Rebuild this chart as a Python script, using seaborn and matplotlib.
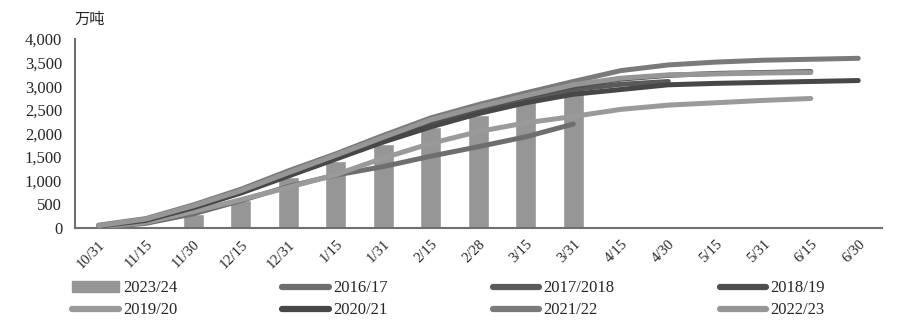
import numpy as np
import pandas as pd
import matplotlib
matplotlib.use("Agg")
import matplotlib.pyplot as plt
import seaborn as sns
from matplotlib.lines import Line2D
from matplotlib.patches import Patch

dates = ["10/31", "11/15", "11/30", "12/15", "12/31", "1/15", "1/31", "2/15",
         "2/28", "3/15", "3/31", "4/15", "4/30", "5/15", "5/31", "6/15", "6/30"]

bar_label = "2023/24"
bar_values = [np.nan, np.nan, 300, 600, 1070, 1420, 1780, 2130, 2400, 2680, 2950,
              np.nan, np.nan, np.nan, np.nan, np.nan, np.nan]

s2016_17 = [10, 100, 300, 580, 880, 1120, 1300, 1520, 1720, 1930, 2200]
s2017_18 = [30, 150, 420, 760, 1130, 1500, 1870, 2230, 2500, 2730, 2930, 3040, 3100]
s2018_19 = [40, 170, 450, 780, 1150, 1520, 1900, 2260, 2540, 2780, 3000, 3150, 3230,
            3270, 3290, 3310]
s2019_20 = [20, 120, 350, 600, 860, 1130, 1480, 1790, 2040, 2225, 2360, 2510, 2600,
            2650, 2700, 2740]
s2020_21 = [40, 160, 430, 740, 1100, 1460, 1820, 2140, 2420, 2650, 2830, 2930, 3030,
            3060, 3080, 3100, 3120]
s2021_22 = [60, 200, 490, 820, 1210, 1570, 1960, 2330, 2610, 2860, 3100, 3330, 3450,
            3510, 3550, 3570, 3590]
s2022_23 = [50, 190, 470, 790, 1170, 1540, 1920, 2290, 2560, 2800, 3030, 3170, 3240,
            3260, 3280, 3290]

series_names = ["2016/17", "2017/2018", "2018/19", "2019/20", "2020/21", "2021/22", "2022/23"]
series_values = [s2016_17, s2017_18, s2018_19, s2019_20, s2020_21, s2021_22, s2022_23]
series_colors = ["#6e6e6e", "#5a5a5a", "#4e4e4e", "#9a9a9a", "#474747", "#7a7a7a", "#969696"]
bar_color = "#969696"

yticks = [0, 500, 1000, 1500, 2000, 2500, 3000, 3500, 4000]
ytick_labels = ["0", "500", "1,000", "1,500", "2,000", "2,500", "3,000", "3,500", "4,000"]

sns.set_style("white")
plt.rcParams['font.family'] = ['Liberation Serif', 'DejaVu Serif']

fig = plt.figure(figsize=(9, 3.3), dpi=100)
ax = fig.add_axes([0.083, 0.309, 0.897, 0.573])

bar_df = pd.DataFrame({"date": dates, "value": bar_values})
sns.barplot(data=bar_df, x="date", y="value", order=dates, color=bar_color,
            width=0.44, saturation=1, ax=ax, zorder=1)

rows = []
for name, vals in zip(series_names, series_values):
    for i, v in enumerate(vals):
        rows.append({"season": name, "pos": i, "value": v})
line_df = pd.DataFrame(rows)
sns.lineplot(data=line_df, x="pos", y="value", hue="season", hue_order=series_names,
             palette=dict(zip(series_names, series_colors)), linewidth=3.6,
             sort=False, ax=ax, zorder=3, legend=False, solid_capstyle="round")

ax.set_xlim(-0.5, len(dates) - 0.5)
ax.set_ylim(0, 4000)
ax.set_yticks(yticks)
ax.set_yticklabels(ytick_labels, fontsize=12)
ax.set_xticks(range(len(dates)))
ax.set_xticklabels(dates, rotation=45, ha="right", rotation_mode="anchor", fontsize=10.5)
ax.set_xlabel("")
ax.set_ylabel("")

ax.set_xticks(np.arange(-0.5, len(dates), 1), minor=True)
ax.tick_params(axis="x", which="major", length=0, pad=7)
ax.tick_params(axis="x", which="minor", length=4, width=1.2, color="#707070", direction="out")
ax.tick_params(axis="y", length=5, width=1.2, color="#707070", direction="out", pad=4)

for side in ["top", "right"]:
    ax.spines[side].set_visible(False)
for side in ["left", "bottom"]:
    ax.spines[side].set_color("#707070")
    ax.spines[side].set_linewidth(1.5)
ax.grid(False)

fig.text(0.083, 0.915, "万吨", fontsize=11, family=["Noto Sans CJK SC", "DejaVu Sans"],
         ha="left", va="bottom")

# legend entries in row order, rearranged for column-major filling
all_handles = [Patch(facecolor=bar_color, edgecolor=bar_color)]
all_labels = [bar_label]
for name, col in zip(series_names, series_colors):
    all_handles.append(Line2D([0], [0], color=col, linewidth=4.5, solid_capstyle="round"))
    all_labels.append(name)
ncol = 4
order = [r * ncol + c for c in range(ncol) for r in range(2)]
handles = [all_handles[i] for i in order]
labels = [all_labels[i] for i in order]

fig.legend(handles, labels, ncol=ncol, loc="upper left", bbox_to_anchor=(0.08, 0.15),
           frameon=False, fontsize=12, handlelength=2.8, handleheight=0.6,
           handletextpad=0.25, columnspacing=6.3, labelspacing=0.35,
           borderaxespad=0, borderpad=0)

fig.savefig("out.png", dpi=100)
